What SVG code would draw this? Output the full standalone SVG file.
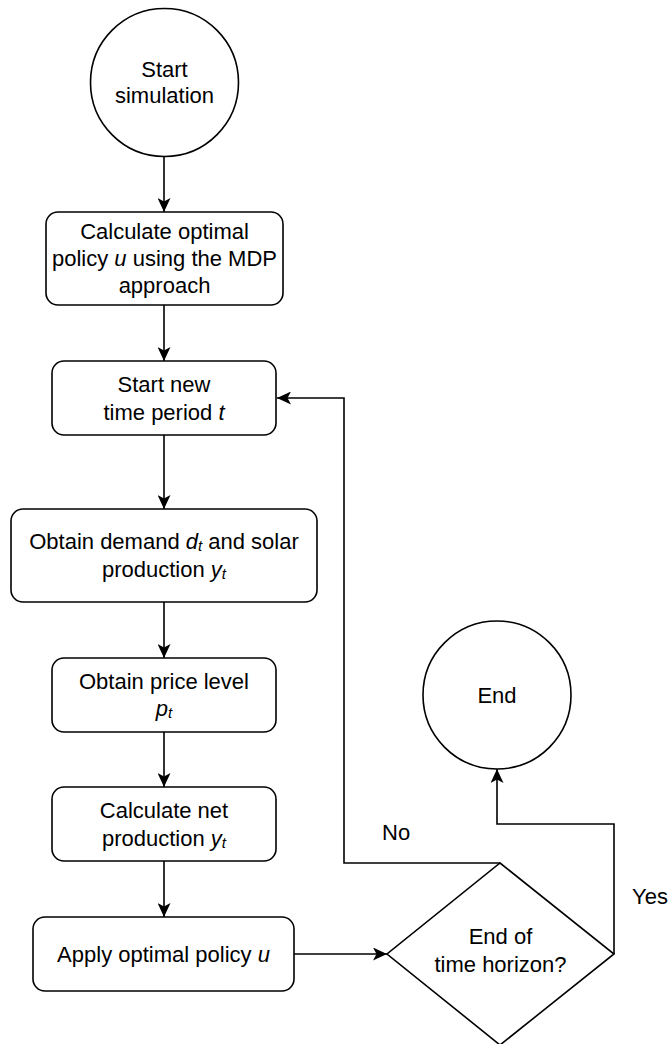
<svg xmlns="http://www.w3.org/2000/svg" width="670" height="1044" viewBox="0 0 670 1044">
<style>
.s{fill:#fff;stroke:#000;stroke-width:1.6}
.t{font-family:"Liberation Sans",Arial,sans-serif;font-size:22px;fill:#000;text-anchor:middle}
.l{font-family:"Liberation Sans",Arial,sans-serif;font-size:22px;fill:#000}
.c{fill:none;stroke:#000;stroke-width:1.6}
.i{font-style:italic}
.sub{font-style:italic;font-size:15px}
</style>
<defs>
<marker id="ar" markerUnits="userSpaceOnUse" markerWidth="15" markerHeight="13" refX="14" refY="6.5" orient="auto">
<path d="M0,0 L14,6.5 L0,13 L3.5,6.5 Z" fill="#000"/>
</marker>
</defs>
<rect width="670" height="1044" fill="#fff"/>
<g id="connectors">
<line class="c" x1="164" y1="157" x2="164" y2="212" marker-end="url(#ar)"/>
<line class="c" x1="164" y1="305" x2="164" y2="361" marker-end="url(#ar)"/>
<line class="c" x1="164" y1="435" x2="164" y2="509" marker-end="url(#ar)"/>
<line class="c" x1="164" y1="602" x2="164" y2="658" marker-end="url(#ar)"/>
<line class="c" x1="164" y1="732" x2="164" y2="787" marker-end="url(#ar)"/>
<line class="c" x1="164" y1="861" x2="164" y2="917" marker-end="url(#ar)"/>
<line class="c" x1="294" y1="954" x2="387" y2="954" marker-end="url(#ar)"/>
<polyline class="c" points="500,863 344,863 344,398 277,398" marker-end="url(#ar)"/>
<polyline class="c" points="614,954 614,824 497,824 497,769" marker-end="url(#ar)"/>
<text class="l" x="382" y="840">No</text>
<text class="l" x="632" y="904">Yes</text>
</g>
<g id="start">
<circle class="s" cx="164.5" cy="82.5" r="74"/>
<text class="t" x="164.5" y="77">Start</text>
<text class="t" x="164.5" y="103">simulation</text>
</g>
<g id="calc-policy">
<rect class="s" x="46" y="212" width="237" height="93" rx="12"/>
<text class="t" x="164.5" y="239">Calculate optimal</text>
<text class="t" x="164.5" y="266">policy <tspan class="i">u</tspan> using the MDP</text>
<text class="t" x="164.5" y="293">approach</text>
</g>
<g id="new-period">
<rect class="s" x="52" y="361" width="224" height="74" rx="12"/>
<text class="t" x="164" y="392">Start new</text>
<text class="t" x="164" y="420">time period <tspan class="i">t</tspan></text>
</g>
<g id="demand">
<rect class="s" x="11" y="509" width="306" height="93" rx="12"/>
<text class="t" x="164" y="549">Obtain demand <tspan class="i">d</tspan><tspan class="sub" dy="2">t</tspan><tspan dy="-2"> and solar</tspan></text>
<text class="t" x="164" y="577">production <tspan class="i">y</tspan><tspan class="sub" dy="2">t</tspan></text>
</g>
<g id="price">
<rect class="s" x="52" y="658" width="224" height="74" rx="12"/>
<text class="t" x="164" y="688.5">Obtain price level</text>
<text class="t" x="164" y="716"><tspan class="i">p</tspan><tspan class="sub" dy="2">t</tspan></text>
</g>
<g id="net">
<rect class="s" x="52" y="787" width="224" height="74" rx="12"/>
<text class="t" x="164" y="817.5">Calculate net</text>
<text class="t" x="164" y="846">production <tspan class="i">y</tspan><tspan class="sub" dy="2">t</tspan></text>
</g>
<g id="apply">
<rect class="s" x="33" y="917" width="261" height="74" rx="12"/>
<text class="t" x="163.5" y="961.5">Apply optimal policy <tspan class="i">u</tspan></text>
</g>
<g id="decision">
<polygon class="s" points="500,863 614,954 500,1045 387,954"/>
<text class="t" x="500.5" y="944">End of</text>
<text class="t" x="500.5" y="972">time horizon?</text>
</g>
<g id="end">
<circle class="s" cx="497" cy="695" r="74"/>
<text class="t" x="497" y="702.5">End</text>
</g>
</svg>
